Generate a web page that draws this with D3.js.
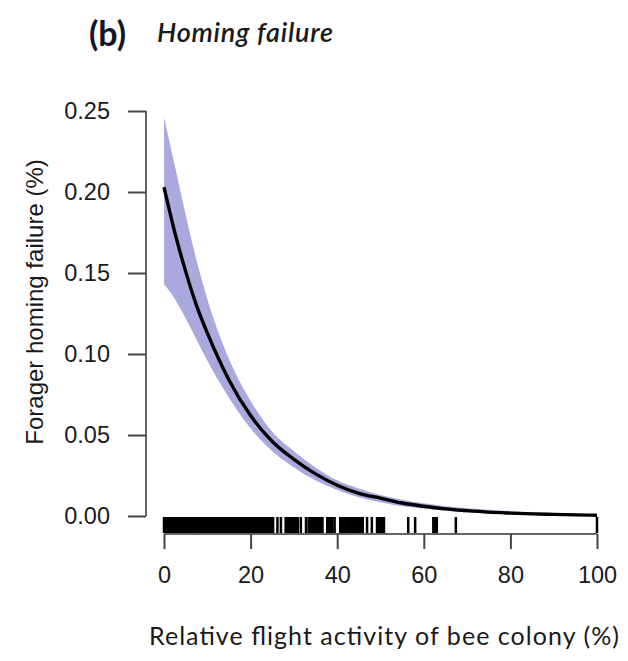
<!DOCTYPE html>
<html>
<head>
<meta charset="utf-8">
<script src="https://d3js.org/d3.v7.min.js"></script>
<style>
  body { margin: 0; background: #fff; }
  svg { display: block; }
</style>
</head>
<body>
<svg id="chart"></svg>
<script>
// fitted curve
const activity = [0, 2.5, 5, 7.5, 10, 15, 20, 25, 30, 35, 40, 45, 50, 55, 60, 65, 70, 75, 80, 85, 90, 95, 100];
const failure  = [0.203, 0.175, 0.151, 0.130, 0.113, 0.084, 0.062, 0.046, 0.035, 0.026, 0.019, 0.014, 0.011, 0.008, 0.006, 0.0044, 0.0033, 0.0024, 0.0018, 0.0013, 0.0010, 0.0007, 0.0005];
const upper    = [0.246, 0.216, 0.186, 0.158, 0.134, 0.097, 0.071, 0.052, 0.040, 0.030, 0.022, 0.017, 0.013, 0.010, 0.0078, 0.0060, 0.0048, 0.0038, 0.0030, 0.0024, 0.0018, 0.0014, 0.0011];
const lower    = [0.143, 0.134, 0.122, 0.109, 0.096, 0.073, 0.054, 0.040, 0.030, 0.022, 0.016, 0.0115, 0.0085, 0.006, 0.0045, 0.0032, 0.0022, 0.0016, 0.0010, 0.0007, 0.0005, 0.0003, 0.0002];

// observed colonies (rug)
const rug = [0, 0.4, 0.8, 1.2, 1.6, 2.0, 2.4, 2.8, 3.2, 3.6, 4.0, 4.4, 4.8, 5.2, 5.6, 6.0, 6.4, 6.8, 7.2, 7.6,
  8.0, 8.4, 8.8, 9.2, 9.6, 10.0, 10.4, 10.8, 11.2, 11.6, 12.0, 12.4, 12.8, 13.2, 13.6, 14.0, 14.4, 14.8, 15.2,
  15.6, 16.0, 16.4, 16.8, 17.2, 17.6, 18.0, 18.4, 18.8, 19.2, 19.6, 20.0, 20.4, 20.8, 21.2, 21.6, 22.0, 22.4,
  22.8, 23.2, 23.6, 24.0, 24.4, 24.8, 25.2, 26.2, 27.0, 28.1, 28.5, 28.9, 29.3, 29.7, 30.1, 30.5, 30.9, 31.6,
  32.8, 33.4, 33.8, 34.2, 34.6, 35.0, 35.4, 35.8, 36.2, 36.6, 37.7, 38.1, 38.5, 38.9, 39.4, 40.7, 41.1, 41.5,
  41.9, 42.3, 42.7, 43.1, 43.5, 43.9, 44.3, 44.7, 45.1, 45.5, 45.9, 46.9, 48.0, 49.2, 49.6, 50.0, 50.4, 50.8,
  56.4, 58.0, 62.2, 62.6, 63.0, 67.4, 100];

const xTicks = [0, 20, 40, 60, 80, 100];
const yTicks = [0, 0.05, 0.10, 0.15, 0.20, 0.25];

const width = 628, height = 661;
const svg = d3.select("#chart").attr("width", width).attr("height", height);

const x = d3.scaleLinear().domain([0, 100]).range([164, 597]);
const y = d3.scaleLinear().domain([0, 0.25]).range([516, 111]);

const rows = activity.map((a, i) => ({ a, f: failure[i], hi: upper[i], lo: lower[i] }));

// confidence band
svg.append("path")
  .datum(rows)
  .attr("fill", "#a9a9de")
  .attr("d", d3.area()
    .x(d => x(d.a))
    .y0(d => y(d.lo))
    .y1(d => y(d.hi))
    .curve(d3.curveMonotoneX));

// fitted line
svg.append("path")
  .datum(rows)
  .attr("fill", "none")
  .attr("stroke", "#000")
  .attr("stroke-width", 3.4)
  .attr("d", d3.line()
    .x(d => x(d.a))
    .y(d => y(d.f))
    .curve(d3.curveMonotoneX));

// rug
svg.append("g")
  .selectAll("line")
  .data(rug)
  .join("line")
  .attr("x1", d => x(d)).attr("x2", d => x(d))
  .attr("y1", 517).attr("y2", 533)
  .attr("stroke", "#000")
  .attr("stroke-width", 2.5);

// axes
const yAxis = svg.append("g")
  .attr("transform", "translate(146,0)")
  .call(d3.axisLeft(y).tickValues(yTicks).tickFormat(d3.format(".2f")).tickSize(18).tickPadding(18));

const xAxis = svg.append("g")
  .attr("transform", "translate(0,534)")
  .call(d3.axisBottom(x).tickValues(xTicks).tickSize(15).tickPadding(17));

[yAxis, xAxis].forEach(g => {
  g.select(".domain").attr("stroke", "#666").attr("stroke-width", 2);
  g.selectAll(".tick line").attr("stroke", "#444").attr("stroke-width", 2);
  g.selectAll(".tick text")
    .attr("fill", "#1a1a1a")
    .style("font-family", "'Liberation Sans', Arial, sans-serif")
    .style("font-size", "23.5px");
});
yAxis.select(".domain").attr("d", "M0," + y(0.25) + "V" + y(0));
xAxis.select(".domain").attr("d", "M" + x(0) + ",0H" + x(100));

// axis titles
svg.append("text")
  .attr("transform", "translate(43,302) rotate(-90)")
  .attr("text-anchor", "middle")
  .attr("fill", "#1a1a1a")
  .style("font-family", "'Liberation Sans', Arial, sans-serif")
  .style("font-size", "24px")
  .text("Forager homing failure (%)");

svg.append("text")
  .attr("x", 384).attr("y", 645)
  .attr("text-anchor", "middle")
  .attr("fill", "#1a1a1a")
  .attr("textLength", 470)
  .style("font-family", "Lato, 'Open Sans', sans-serif")
  .style("font-size", "25px")
  .text("Relative flight activity of bee colony (%)");

// panel title
svg.append("text")
  .attr("x", 89).attr("y", 46)
  .attr("fill", "#141428")
  .style("font-family", "Lato, 'Open Sans', sans-serif")
  .style("font-weight", "bold")
  .style("font-size", "34px")
  .text("(b)");

svg.append("text")
  .attr("x", 157).attr("y", 42)
  .attr("fill", "#1a1a1a")
  .attr("textLength", 176)
  .style("font-family", "Lato, 'Open Sans', sans-serif")
  .style("font-style", "italic")
  .style("font-weight", "600")
  .style("font-size", "27px")
  .text("Homing failure");
</script>
</body>
</html>
